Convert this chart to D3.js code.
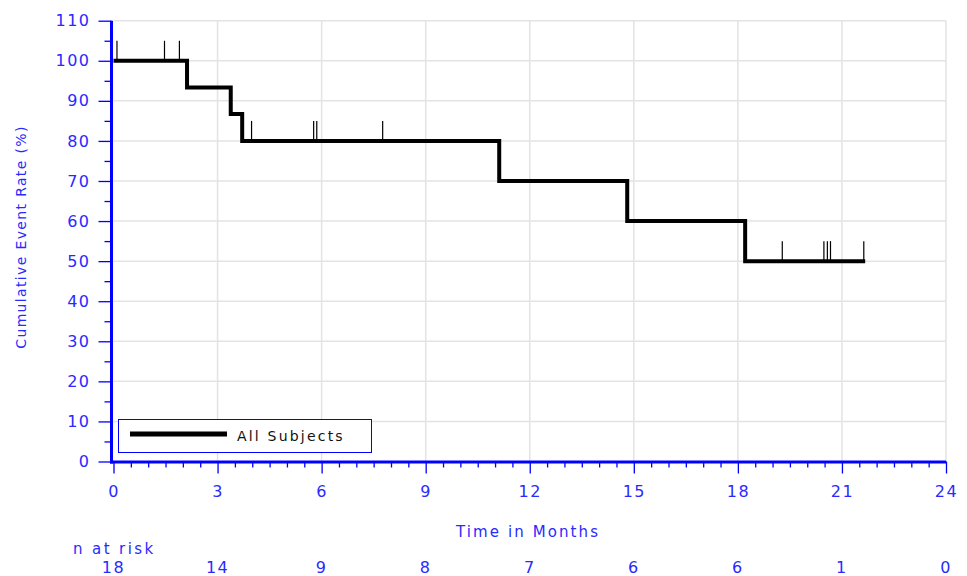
<!DOCTYPE html>
<html>
<head>
<meta charset="utf-8">
<script src="https://cdn.jsdelivr.net/npm/d3@7"></script>
<style>
  html, body { margin: 0; padding: 0; background: #fff; }
  svg { display: block; }
  text { font-family: "DejaVu Sans", sans-serif; }
</style>
</head>
<body>
<svg id="chart" width="967" height="576"></svg>
<script>
// ---- data ----
const stepTimes = [0, 2.12, 3.38, 3.71, 11.12, 14.81, 18.21];
const stepRates = [100, 93.3, 86.7, 80, 70, 60, 50];
const lastTime = 21.67;
const censorTimes = [0.1, 1.47, 1.9, 3.98, 5.77, 5.86, 7.76, 19.28, 20.48, 20.58, 20.67, 21.63];
const xTickValues = [0, 3, 6, 9, 12, 15, 18, 21, 24];
const yTickValues = [0, 10, 20, 30, 40, 50, 60, 70, 80, 90, 100, 110];
const atRiskTimes = [0, 3, 6, 9, 12, 15, 18, 21, 24];
const atRiskCounts = [18, 14, 9, 8, 7, 6, 6, 1, 0];
const seriesName = "All Subjects";

// ---- layout ----
const svg = d3.select("#chart");
const blue = "#0000ff";
const labelBlue = "#2a2aff";
const x = d3.scaleLinear().domain([0, 24]).range([113.5, 946]);
const y = d3.scaleLinear().domain([0, 110]).range([461.5, 20.7]);

// gridlines
const grid = svg.append("g");
grid.selectAll("line.gx").data(xTickValues.filter(d => d > 0)).join("line")
  .attr("x1", d => x(d)).attr("x2", d => x(d))
  .attr("y1", y(110)).attr("y2", y(0))
  .attr("stroke", "#e3e3e3").attr("stroke-width", 1.5);
grid.selectAll("line.gy").data(yTickValues.filter(d => d > 0)).join("line")
  .attr("x1", x(0)).attr("x2", x(24))
  .attr("y1", d => y(d)).attr("y2", d => y(d))
  .attr("stroke", "#e3e3e3").attr("stroke-width", 1.5);

// y axis
const yMajor = svg.append("g").attr("transform", `translate(${x(0) - 2},0)`)
  .call(d3.axisLeft(y).tickValues(yTickValues).tickSize(13).tickPadding(8).tickFormat(d3.format("d")));
const yMinor = svg.append("g").attr("transform", `translate(${x(0) - 2},0)`)
  .call(d3.axisLeft(y).tickValues(d3.range(5, 110, 10)).tickSize(7).tickFormat(""));
[yMajor, yMinor].forEach(g => {
  g.select(".domain").remove();
  g.selectAll(".tick line").attr("stroke", blue).attr("stroke-width", 1.3);
});
yMajor.selectAll(".tick text").attr("fill", labelBlue).attr("font-size", 16)
  .attr("letter-spacing", 1.5).attr("font-family", "DejaVu Sans, sans-serif");
svg.append("line").attr("x1", x(0) - 2).attr("x2", x(0) - 2)
  .attr("y1", y(110)).attr("y2", y(0) + 2)
  .attr("stroke", blue).attr("stroke-width", 3);

// x axis
const xMajor = svg.append("g").attr("transform", `translate(0,${y(0)})`)
  .call(d3.axisBottom(x).tickValues(xTickValues).tickSize(12).tickPadding(12).tickFormat(d3.format("d")));
const xMinor = svg.append("g").attr("transform", `translate(0,${y(0)})`)
  .call(d3.axisBottom(x).tickValues(d3.range(0.5, 24, 0.5).filter(d => d % 3 !== 0)).tickSize(6).tickFormat(""));
[xMajor, xMinor].forEach(g => {
  g.select(".domain").remove();
  g.selectAll(".tick line").attr("stroke", blue).attr("stroke-width", 1.3);
});
xMajor.selectAll(".tick text").attr("fill", labelBlue).attr("font-size", 16)
  .attr("letter-spacing", 1.5).attr("font-family", "DejaVu Sans, sans-serif");
svg.append("line").attr("x1", x(0) - 3.5).attr("x2", x(24))
  .attr("y1", y(0) + 0.5).attr("y2", y(0) + 0.5)
  .attr("stroke", blue).attr("stroke-width", 3);

// axis titles
svg.append("text").attr("x", 528).attr("y", 537).attr("text-anchor", "middle")
  .attr("fill", labelBlue).attr("font-size", 15).attr("letter-spacing", 2.1)
  .text("Time in Months");
svg.append("text").attr("transform", "translate(26,237) rotate(-90)").attr("text-anchor", "middle")
  .attr("fill", labelBlue).attr("font-size", 14).attr("letter-spacing", 1.35)
  .text("Cumulative Event Rate (%)");

// n at risk
svg.append("text").attr("x", 73).attr("y", 554)
  .attr("fill", labelBlue).attr("font-size", 15).attr("letter-spacing", 2.4)
  .text("n at risk");
svg.selectAll("text.risk").data(atRiskTimes).join("text")
  .attr("class", "risk")
  .attr("x", d => x(d)).attr("y", 573).attr("text-anchor", "middle")
  .attr("fill", labelBlue).attr("font-size", 16).attr("letter-spacing", 1.5)
  .text((d, i) => atRiskCounts[i]);

// KM curve
const pts = stepTimes.map((t, i) => [t, stepRates[i]]).concat([[lastTime, stepRates[stepRates.length - 1]]]);
const line = d3.line().x(d => x(d[0])).y(d => y(d[1])).curve(d3.curveStepAfter);
svg.append("path").attr("d", line(pts)).attr("fill", "none")
  .attr("stroke", "#000").attr("stroke-width", 4).attr("stroke-linejoin", "miter");

// censor marks
const rateAt = t => stepRates[d3.bisectRight(stepTimes, t) - 1];
svg.selectAll("line.cens").data(censorTimes).join("line")
  .attr("x1", d => x(d)).attr("x2", d => x(d))
  .attr("y1", d => y(rateAt(d))).attr("y2", d => y(rateAt(d)) - 20)
  .attr("stroke", "#000").attr("stroke-width", 1.2);

// legend
svg.append("rect").attr("x", 118.5).attr("y", 419.5).attr("width", 253).attr("height", 33)
  .attr("fill", "#fff").attr("stroke", blue).attr("stroke-width", 1);
svg.append("line").attr("x1", 130).attr("x2", 227).attr("y1", 434).attr("y2", 434)
  .attr("stroke", "#000").attr("stroke-width", 5);
svg.append("text").attr("x", 237).attr("y", 441).attr("fill", "#111")
  .attr("font-size", 14).attr("letter-spacing", 2.2).text(seriesName);
</script>
</body>
</html>
